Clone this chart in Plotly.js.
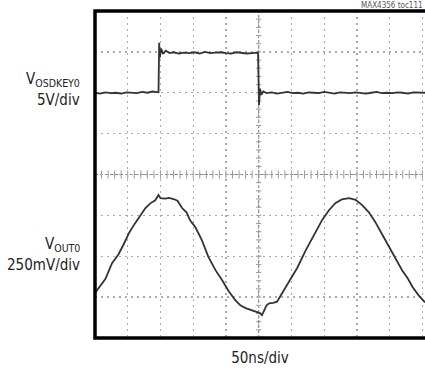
<!DOCTYPE html>
<html>
<head>
<meta charset="utf-8">
<script src="https://cdn.plot.ly/plotly-3.0.1.min.js"></script>
<style>html,body{margin:0;padding:0;background:#fff;}#chart{width:425px;height:370px;}</style>
</head>
<body>
<div id="chart"></div>
<script>
// time in ns (50 ns/div), vertical position in screen divisions (0 = bottom, 8 = top)
const keyTime = [0, 8, 16, 24, 32, 40, 48, 56, 64, 72, 80, 88, 95, 97, 98, 99, 101, 104, 108, 114, 120, 128, 136, 144, 152, 160, 168, 176, 184, 192, 200, 208, 216, 224, 232, 240, 246, 249, 250.5, 252, 254, 257, 262, 270, 278, 286, 294, 302, 310, 318, 326, 334, 342, 350, 358, 366, 374, 382, 390, 398, 406, 414, 422, 430, 438, 446, 454, 462, 470, 478, 486, 494, 504];
const keyLevel = [6.00, 5.98, 6.01, 5.99, 6.00, 5.98, 6.01, 6.00, 5.99, 6.02, 6.00, 6.03, 6.00, 6.01, 7.22, 6.86, 7.08, 6.95, 7.03, 6.97, 6.99, 6.96, 6.98, 6.97, 6.99, 6.96, 7.00, 6.97, 6.98, 6.99, 6.97, 6.96, 6.99, 6.98, 6.96, 6.97, 6.98, 6.98, 5.70, 6.10, 5.95, 6.03, 5.99, 6.01, 5.98, 6.00, 6.02, 5.99, 6.00, 5.98, 6.01, 6.00, 5.99, 6.02, 6.00, 5.98, 6.01, 6.00, 5.99, 6.01, 6.00, 5.98, 6.00, 6.02, 5.99, 6.00, 5.99, 6.01, 6.00, 5.98, 6.01, 6.00, 6.00];

const outTime = [0, 8, 16, 26, 36, 44, 52, 60, 68, 77, 85, 92, 97, 100, 107, 113, 120, 126, 133, 140, 144, 146, 153, 163, 173, 184, 194, 204, 214, 222, 230, 240, 247, 252, 255, 258, 262, 266, 272, 278, 284, 296, 309, 322, 334, 347, 357, 367, 377, 388, 398, 408, 418, 428, 438, 449, 459, 469, 478, 485, 494, 504];
const outLevel = [1.10, 1.27, 1.45, 1.83, 2.05, 2.30, 2.57, 2.78, 2.98, 3.18, 3.30, 3.37, 3.50, 3.42, 3.41, 3.43, 3.40, 3.36, 3.18, 3.07, 2.92, 2.86, 2.72, 2.40, 1.99, 1.66, 1.42, 1.15, 0.93, 0.80, 0.73, 0.67, 0.64, 0.61, 0.56, 0.66, 0.80, 0.85, 0.86, 0.89, 1.05, 1.34, 1.72, 2.15, 2.52, 2.89, 3.12, 3.30, 3.39, 3.42, 3.38, 3.25, 3.08, 2.84, 2.55, 2.23, 1.93, 1.66, 1.45, 1.25, 1.05, 0.87];

const nsPerDiv = 50, xDivs = 10, yDivs = 8;
const font = "'Liberation Sans Narrow', 'DejaVu Sans Condensed', 'Liberation Sans', sans-serif";
const traceColor = '#333333';

const traces = [
  {x: keyTime, y: keyLevel, type: 'scatter', mode: 'lines', line: {color: traceColor, width: 1.8}, hoverinfo: 'skip'},
  {x: outTime, y: outLevel, type: 'scatter', mode: 'lines', line: {color: traceColor, width: 1.8}, hoverinfo: 'skip'}
];

// centre crosshair with small ticks every 1/5 division
const shapes = [];
const cx = nsPerDiv * xDivs / 2, cy = yDivs / 2;
shapes.push({type: 'line', xref: 'x', yref: 'y', x0: cx, x1: cx, y0: 0, y1: yDivs, line: {color: '#888', width: 1.2, dash: '3px,2px'}, layer: 'below'});
shapes.push({type: 'line', xref: 'x', yref: 'y', x0: 0, x1: 520, y0: cy, y1: cy, line: {color: '#888', width: 1.2, dash: '3px,2px'}, layer: 'below'});
for (let i = 1; i < xDivs * 5 + 2; i++) {
  const xv = i * nsPerDiv / 5;
  shapes.push({type: 'line', xref: 'x', yref: 'y', x0: xv, x1: xv, y0: cy - 0.1, y1: cy + 0.1, line: {color: '#999', width: 1}, layer: 'below'});
}
for (let i = 1; i < yDivs * 5; i++) {
  const yv = i / 5;
  shapes.push({type: 'line', xref: 'x', yref: 'y', x0: cx - 4, x1: cx + 4, y0: yv, y1: yv, line: {color: '#999', width: 1}, layer: 'below'});
}
// frame
shapes.push({type: 'rect', xref: 'paper', yref: 'paper', x0: 0, x1: 1.02, y0: 0, y1: 1, line: {color: '#000', width: 3.5}});

const annotations = [
  {text: 'V<sub>OSDKEY0</sub>', xref: 'paper', yref: 'paper', x: -0.04, y: 0.79, xanchor: 'right', yanchor: 'middle', showarrow: false, font: {family: font, size: 15, color: '#222'}},
  {text: '5V/div', xref: 'paper', yref: 'paper', x: -0.04, y: 0.727, xanchor: 'right', yanchor: 'middle', showarrow: false, font: {family: font, size: 15, color: '#222'}},
  {text: 'V<sub>OUT0</sub>', xref: 'paper', yref: 'paper', x: -0.04, y: 0.285, xanchor: 'right', yanchor: 'middle', showarrow: false, font: {family: font, size: 15, color: '#222'}},
  {text: '250mV/div', xref: 'paper', yref: 'paper', x: -0.04, y: 0.222, xanchor: 'right', yanchor: 'middle', showarrow: false, font: {family: font, size: 15, color: '#222'}},
  {text: 'MAX4356 toc111', xref: 'paper', yref: 'paper', x: 1.0, y: 1.0, xanchor: 'right', yanchor: 'bottom', yshift: -1, showarrow: false, font: {family: font, size: 8, color: '#555'}}
];

const layout = {
  width: 425, height: 370,
  margin: {l: 95, r: 0, t: 11, b: 32},
  paper_bgcolor: '#fff', plot_bgcolor: '#fff',
  showlegend: false,
  xaxis: {range: [0, 504], dtick: nsPerDiv, tick0: 0, showticklabels: false, ticks: '', showgrid: true, gridcolor: '#aaaaaa', gridwidth: 1.3, griddash: '2px,4px', zeroline: false, showline: false,
          title: {text: '50ns/div', font: {family: font, size: 15, color: '#222'}, standoff: 14}},
  yaxis: {range: [0, yDivs], dtick: 1, tick0: 0, showticklabels: false, ticks: '', showgrid: true, gridcolor: '#aaaaaa', gridwidth: 1.3, griddash: '2px,4px', zeroline: false, showline: false},
  shapes: shapes,
  annotations: annotations
};

Plotly.newPlot('chart', traces, layout, {displayModeBar: false, staticPlot: true});
</script>
</body>
</html>
